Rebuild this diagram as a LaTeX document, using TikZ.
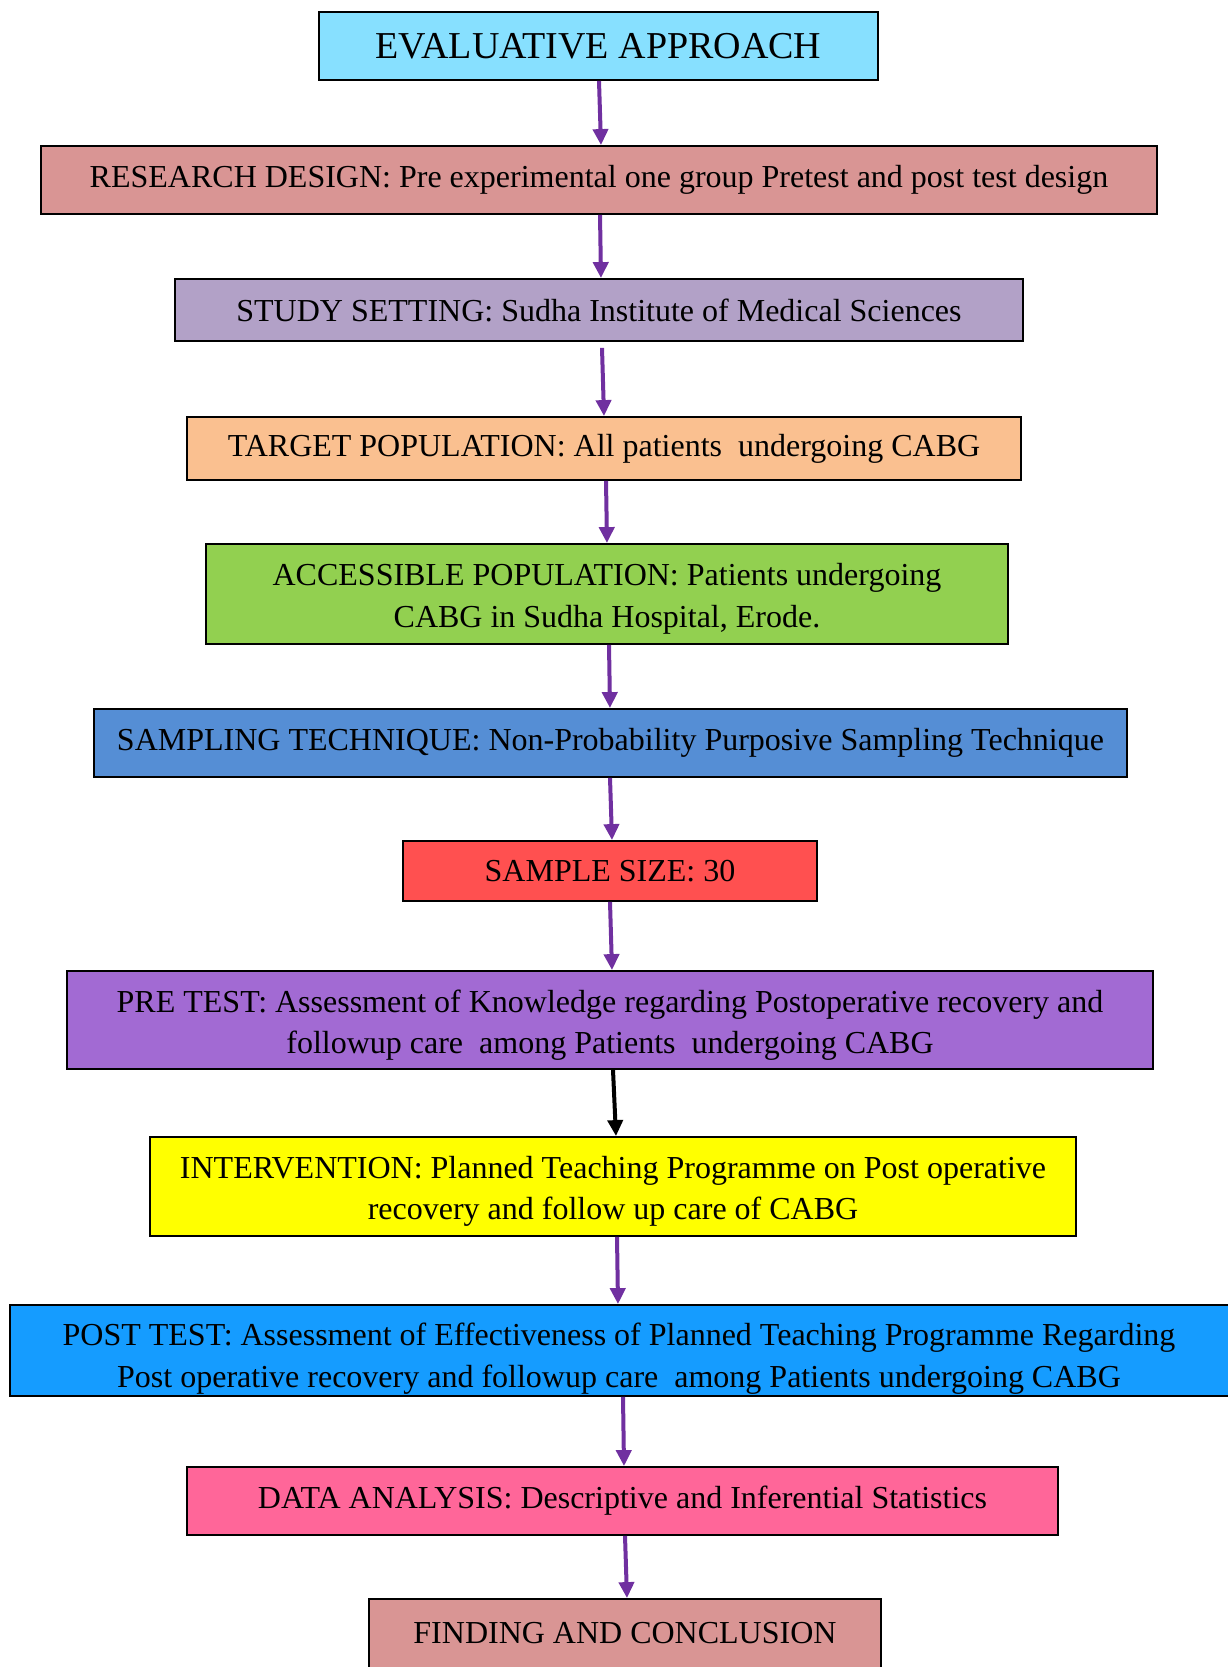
\documentclass[tikz,border=0pt]{standalone}
\usepackage{fontspec}
\setmainfont{Liberation Serif}
\usetikzlibrary{arrows.meta}
\definecolor{cE}{HTML}{87E0FF}
\definecolor{cR}{HTML}{D99594}
\definecolor{cS}{HTML}{B2A1C7}
\definecolor{cT}{HTML}{FAC090}
\definecolor{cA}{HTML}{92D050}
\definecolor{cSamp}{HTML}{558ED5}
\definecolor{cSS}{HTML}{FF5050}
\definecolor{cPre}{HTML}{A26AD3}
\definecolor{cInt}{HTML}{FFFF00}
\definecolor{cPost}{HTML}{159CFF}
\definecolor{cDA}{HTML}{FF6699}
\definecolor{cArr}{HTML}{7030A0}
\tikzset{
  box/.style={draw=black, line width=1.8pt, rectangle, inner sep=0pt, align=center,
    font=\fontsize{32}{41.5}\selectfont},
  flow/.style={line width=4pt, draw=cArr, -{Triangle[length=16pt,width=15pt]}, shorten <=0pt},
}
\newcommand{\bx}[7]{% name, x1, y1, x2, y2, color, text
  \node[box, fill=#6, minimum width={#4-#2}, minimum height={#5-#3}] (#1) at ({(#2+#4)/2},{-(#3+#5)/2}) {#7};}
\newcommand{\dn}[3]{\raisebox{-#1}[\height][\depth]{\parbox{#2}{\centering #3}}}
\begin{document}
\begin{tikzpicture}[x=1pt,y=1pt]
\useasboundingbox (0,0) rectangle (1227,-1667);
\bx{eval}{319}{12}{878}{80}{cE}{\fontsize{38}{44}\selectfont EVALUATIVE APPROACH}
\bx{rd}{41}{146}{1157}{214}{cR}{RESEARCH DESIGN: Pre experimental one group Pretest and post test design}
\bx{ss}{175}{279}{1023}{341}{cS}{STUDY SETTING: Sudha Institute of Medical Sciences}
\bx{tp}{187}{417}{1021}{480}{cT}{TARGET POPULATION: All patients\ \ undergoing CABG}
\bx{ap}{206}{544}{1008}{644}{cA}{\dn{5pt}{780pt}{ACCESSIBLE POPULATION: Patients undergoing\\CABG in Sudha Hospital, Erode.}}
\bx{st}{94}{709}{1127}{777}{cSamp}{SAMPLING TECHNIQUE: Non-Probability Purposive Sampling Technique}
\bx{sz}{403}{841}{817}{901}{cSS}{SAMPLE SIZE: 30}
\bx{pre}{67}{971}{1153}{1069}{cPre}{\dn{5pt}{1080pt}{PRE TEST: Assessment of Knowledge regarding Postoperative recovery and\\followup care\ \ among Patients\ \ undergoing CABG}}
\bx{int}{150}{1137}{1076}{1236}{cInt}{\dn{5pt}{900pt}{INTERVENTION: Planned Teaching Programme on Post operative\\recovery and follow up care of CABG}}
\bx{post}{10}{1305}{1240}{1396}{cPost}{\dn{8pt}{1200pt}{\hspace*{-12pt}POST TEST: Assessment of Effectiveness of Planned Teaching Programme Regarding\\\hspace*{-12pt}Post operative recovery and followup care\ \ among Patients undergoing CABG}}
\bx{da}{187}{1467}{1058}{1535}{cDA}{DATA ANALYSIS: Descriptive and Inferential Statistics}
\bx{fc}{369}{1599}{881}{1700}{cR}{\raisebox{34pt}{FINDING AND CONCLUSION}}
% connectors
\draw[flow] (eval.south -| 599,0) -- (rd.north -| 601,0);
\draw[flow] (rd.south -| 600,0) -- (ss.north -| 601,0);
\draw[flow] ([yshift=-6pt]ss.south -| 602,0) -- (tp.north -| 604,0);
\draw[flow] (tp.south -| 606,0) -- (ap.north -| 607,0);
\draw[flow] (ap.south -| 609,0) -- (st.north -| 610,0);
\draw[flow] (st.south -| 610,0) -- (sz.north -| 612,0);
\draw[flow] (sz.south -| 610,0) -- (pre.north -| 612,0);
\draw[flow, draw=black] (pre.south -| 613,0) -- (int.north -| 616,0);
\draw[flow] (int.south -| 617,0) -- (post.north -| 618,0);
\draw[flow] (post.south -| 623,0) -- (da.north -| 624,0);
\draw[flow] (da.south -| 625,0) -- (fc.north -| 627,0);
\end{tikzpicture}
\end{document}
